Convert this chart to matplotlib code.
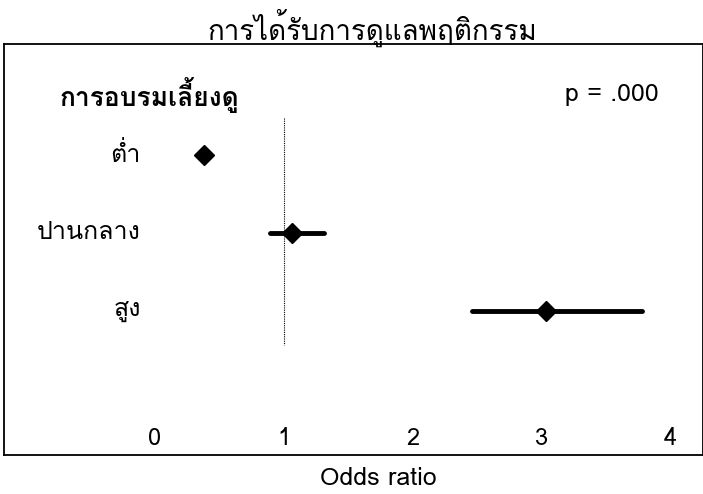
import numpy as np
import matplotlib
matplotlib.use("Agg")
import matplotlib.pyplot as plt
from matplotlib import font_manager
from matplotlib.ft2font import FT2Font

# data
groups = ['ต่ำ', 'ปานกลาง', 'สูง']
odds = [0.38, 1.06, 3.03]
ci_low = [None, 0.89, 2.46]
ci_high = [None, 1.31, 3.78]
xticks = [0, 1, 2, 3, 4]
title = 'การได้รับการดูแลพฤติกรรม'
heading = 'การอบรมเลี้ยงดู'
pval = 'p = .000'


def thai_font():
    # find an installed font that actually has Thai glyphs
    for f in font_manager.fontManager.ttflist:
        try:
            cmap = FT2Font(f.fname).get_charmap()
        except Exception:
            continue
        if 0x0E01 in cmap and 0x0E32 in cmap:
            return f.name
    return 'DejaVu Sans'


th = thai_font()
fams = [th, 'DejaVu Sans']

fig = plt.figure(figsize=(7.03, 4.94), dpi=100)
ax = fig.add_axes([4/703, 1 - 455/494, 699/703, 411/494])
ax.set_xlim(-1.17, 4.25)
ax.set_ylim(4.85, -0.42)
ax.set_xticks([])
ax.set_yticks([])
for s in ax.spines.values():
    s.set_linewidth(1.3)
    s.set_color('black')

rows = np.arange(1, len(groups) + 1)

ax.plot([1, 1], [0.53, 3.44], color='black', lw=0.8, ls=(0, (1, 1)))

for r, o, lo, hi in zip(rows, odds, ci_low, ci_high):
    if lo is not None:
        ax.plot([lo, hi], [r, r], color='black', lw=3.5, solid_capstyle='round')
    ax.plot(o, r, marker='D', color='black', ms=10)

for r, g in zip(rows, groups):
    ax.text(-0.11, r, g, ha='right', va='center', fontsize=18, family=fams)

ax.text(-0.74, 0.23, heading, ha='left', va='center', fontsize=19,
        fontweight='bold', family=fams)
ax.text(3.18, 0.23, pval, ha='left', va='center', fontsize=18, family=fams)

for t in xticks:
    ax.text(t, 4.64, str(t), ha='center', va='center', fontsize=17, family=fams)

fig.text(372/703, 1 - 28/494, title, ha='center', va='center', fontsize=20,
         family=fams)
fig.text(378/703, 1 - 478/494, 'Odds ratio', ha='center', va='center',
         fontsize=18, family=fams)

fig.savefig('out.png', dpi=100)
